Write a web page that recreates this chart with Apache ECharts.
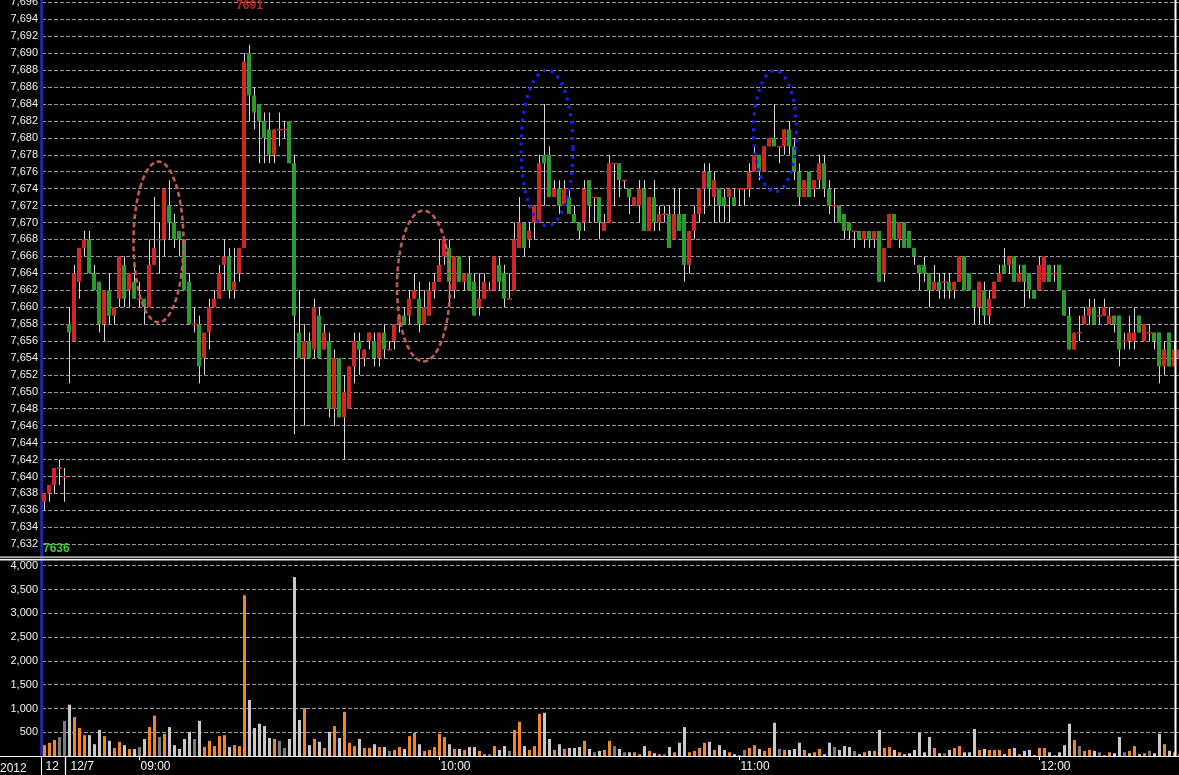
<!DOCTYPE html>
<html>
<head>
<meta charset="utf-8">
<script src="https://cdn.jsdelivr.net/npm/echarts/dist/echarts.min.js"></script>
<style>
html,body{margin:0;padding:0;background:#000;overflow:hidden;width:1179px;height:775px}
#c{width:1182px;height:775px}
</style>
</head>
<body>
<div id="c"></div>
<script>
// ---- categories: last 5 minutes of 12/6 session, then 12/7 from 08:46 ----
const prevSession = ['12/6 13:41','12/6 13:42','12/6 13:43','12/6 13:44','12/6 13:45'];
const daySession = [];
for (let m = 8 * 60 + 46; m <= 12 * 60 + 28; m++) {
  const hh = String(Math.floor(m / 60)).padStart(2, '0');
  const mm = String(m % 60).padStart(2, '0');
  daySession.push('12/7 ' + hh + ':' + mm);
}
const categories = prevSession.concat(daySession);

// ---- price (1-minute OHLC) ----
const openP = [
 7637,7638,7639,7641,7640,7658,7656,7663,7667,7668,
 7664,7663,7658,7662,7659,7661,7665,7662,7663,7661,
 7661,7660,7665,7668,7668,7672,7670,7669,7668,7663,
 7658,7658,7654,7657,7660,7661,7665,7666,7662,7664,
 7667,7690,7685,7684,7682,7681,7678,7681,7681,7682,
 7677,7657,7654,7656,7655,7659,7655,7656,7648,7654,
 7647,7648,7653,7656,7654,7656,7656,7654,7657,7655,
 7656,7658,7659,7659,7661,7661,7658,7659,7662,7663,
 7666,7667,7662,7666,7663,7664,7663,7660,7661,7662,
 7662,7665,7664,7661,7662,7667,7670,7668,7670,7670,
 7678,7678,7673,7674,7672,7673,7671,7670,7670,7675,
 7673,7673,7669,7670,7677,7677,7675,7674,7672,7672,
 7674,7669,7673,7670,7671,7671,7668,7671,7671,7665,
 7669,7671,7674,7676,7673,7674,7673,7673,7673,7674,
 7674,7674,7676,7678,7676,7679,7680,7679,7679,7681,
 7679,7676,7673,7676,7674,7675,7677,7674,7672,7672,
 7671,7670,7669,7669,7668,7669,7668,7669,7664,7667,
 7671,7668,7670,7669,7667,7665,7665,7664,7662,7663,
 7663,7663,7662,7663,7666,7664,7662,7660,7662,7659,
 7661,7663,7665,7665,7666,7663,7665,7664,7662,7662,
 7663,7665,7664,7665,7662,7659,7655,7657,7658,7659,
 7660,7659,7659,7658,7659,7659,7656,7656,7656,7659,
 7656,7657,7657,7657,7653,7657,7653,7654
];
const closeP = [
 7638,7639,7641,7641,7640,7657,7664,7667,7668,7664,
 7662,7658,7662,7659,7660,7666,7661,7664,7661,7661,
 7660,7665,7667,7668,7674,7670,7668,7668,7662,7658,
 7658,7653,7657,7660,7661,7664,7666,7662,7663,7667,
 7689,7685,7683,7682,7680,7678,7681,7681,7681,7677,
 7659,7654,7656,7654,7660,7654,7657,7648,7654,7647,
 7650,7653,7656,7655,7655,7657,7654,7657,7655,7655,
 7658,7659,7658,7661,7662,7658,7660,7662,7663,7665,
 7668,7663,7666,7663,7664,7662,7659,7661,7663,7662,
 7666,7663,7661,7661,7668,7670,7667,7669,7672,7677,
 7677,7673,7674,7672,7674,7671,7670,7669,7674,7672,
 7673,7670,7670,7677,7677,7675,7675,7673,7673,7674,
 7669,7673,7670,7671,7671,7667,7671,7669,7665,7669,
 7671,7674,7676,7674,7675,7672,7672,7674,7672,7674,
 7674,7676,7678,7676,7679,7680,7679,7679,7681,7679,
 7676,7673,7675,7673,7675,7677,7674,7672,7672,7670,
 7669,7669,7669,7668,7669,7668,7669,7663,7667,7671,
 7668,7670,7667,7667,7666,7664,7664,7662,7663,7662,
 7663,7662,7663,7666,7662,7662,7660,7663,7659,7661,
 7663,7664,7664,7666,7663,7664,7663,7662,7661,7665,
 7666,7663,7664,7662,7659,7655,7657,7657,7659,7660,
 7658,7659,7660,7659,7658,7655,7656,7657,7657,7657,
 7658,7657,7656,7653,7655,7653,7655,7655
];
const lowP = [
 7636,7637,7638,7639,7637,7651,7656,7661,7666,7664,
 7662,7657,7656,7658,7658,7660,7660,7660,7661,7660,
 7658,7660,7665,7664,7666,7668,7667,7666,7662,7658,
 7657,7651,7652,7655,7660,7661,7662,7661,7661,7663,
 7667,7682,7681,7677,7677,7677,7677,7679,7680,7677,
 7645,7654,7646,7654,7654,7654,7655,7647,7646,7647,
 7642,7648,7651,7652,7653,7655,7653,7653,7654,7655,
 7655,7657,7658,7658,7661,7657,7658,7659,7661,7663,
 7665,7660,7661,7663,7662,7662,7659,7659,7661,7662,
 7662,7662,7660,7661,7662,7667,7666,7667,7668,7670,
 7672,7673,7673,7671,7672,7671,7670,7668,7669,7670,
 7670,7668,7669,7670,7672,7673,7674,7671,7672,7670,
 7669,7669,7669,7669,7670,7667,7668,7669,7663,7664,
 7668,7670,7671,7672,7670,7670,7670,7670,7672,7672,
 7672,7673,7676,7675,7676,7679,7679,7677,7678,7678,
 7675,7672,7673,7673,7673,7674,7673,7671,7670,7670,
 7668,7668,7667,7668,7667,7667,7667,7663,7663,7667,
 7668,7667,7667,7667,7665,7662,7663,7660,7662,7661,
 7661,7661,7661,7663,7662,7662,7658,7658,7658,7658,
 7661,7663,7664,7664,7663,7663,7660,7661,7661,7662,
 7663,7663,7663,7662,7659,7655,7655,7656,7658,7658,
 7658,7658,7659,7658,7657,7653,7655,7655,7655,7657,
 7656,7656,7655,7651,7652,7653,7653,7654
];
const highP = [
 7638,7639,7641,7642,7641,7660,7665,7667,7669,7669,
 7665,7663,7662,7664,7660,7666,7666,7664,7665,7663,
 7661,7668,7673,7670,7674,7675,7671,7669,7668,7664,
 7660,7659,7657,7661,7662,7665,7668,7667,7667,7667,
 7690,7691,7686,7684,7683,7683,7681,7683,7682,7682,
 7678,7662,7658,7657,7661,7660,7658,7657,7655,7654,
 7652,7653,7657,7657,7655,7657,7657,7657,7658,7656,
 7658,7659,7660,7662,7664,7663,7662,7663,7664,7668,
 7668,7668,7666,7666,7664,7666,7664,7664,7664,7663,
 7666,7666,7665,7664,7670,7673,7670,7670,7672,7678,
 7684,7679,7675,7675,7675,7674,7672,7670,7675,7675,
 7673,7673,7671,7678,7677,7677,7675,7674,7673,7675,
 7675,7673,7675,7672,7672,7672,7674,7674,7671,7669,
 7672,7674,7677,7677,7676,7674,7674,7674,7674,7674,
 7674,7677,7679,7678,7679,7680,7684,7679,7681,7682,
 7680,7677,7675,7676,7675,7678,7678,7675,7674,7672,
 7671,7670,7669,7669,7669,7669,7669,7669,7667,7671,
 7671,7670,7670,7669,7667,7665,7666,7664,7665,7664,
 7664,7664,7663,7666,7666,7664,7662,7663,7663,7662,
 7663,7665,7667,7666,7666,7665,7665,7664,7662,7666,
 7666,7665,7665,7665,7662,7660,7657,7659,7660,7661,
 7661,7660,7661,7660,7659,7659,7657,7659,7660,7659,
 7658,7658,7657,7657,7656,7657,7656,7656
];

// ---- volume (contracts per minute) ----
const volume = [
 230,280,340,400,740,1080,820,590,440,440,
 250,550,420,320,170,300,230,150,150,190,
 360,610,850,400,470,610,230,150,360,510,
 360,740,190,320,210,420,440,190,230,210,
 3380,1180,590,680,630,380,360,320,170,360,
 3760,760,1010,230,360,300,170,510,630,380,
 930,280,210,360,170,170,250,190,190,110,
 130,190,150,420,490,250,110,130,190,470,
 400,250,150,150,130,190,190,110,40,40,
 210,130,210,110,550,720,210,130,210,890,
 910,360,130,250,150,170,170,190,320,150,
 80,110,130,320,210,150,80,80,80,40,
 210,110,60,40,40,190,80,280,610,80,
 110,170,280,300,130,230,130,80,40,20,
 130,170,230,150,110,170,700,150,130,130,
 150,280,130,60,80,150,40,280,190,130,
 210,190,110,40,80,110,110,550,170,190,
 130,80,40,60,130,490,80,400,170,60,
 60,130,170,210,80,80,570,130,150,130,
 130,130,40,150,170,40,110,130,20,170,
 170,80,20,80,230,680,340,210,110,130,
 110,80,20,80,60,400,80,110,210,40,
 60,110,60,470,250,110,80,40
];

// ---- hand-drawn annotation ovals: [centre bar index, centre price, half-width (bars), half-height (points), kind]
const ovalNotes = [
  [22.8, 7667.7, 5.0, 9.5, 'red'],
  [75.8, 7662.5, 5.3, 8.9, 'red'],
  [100.5, 7678.8, 5.2, 9.2, 'blue'],
  [146.1, 7680.8, 4.3, 7.15, 'blue']
];
const yearLabel = '2012';

// ---- styles ----
const UP = '#d42424', DOWN = '#2b9c2b', WICK = '#d8d8d8';
const VOL_UP = '#f0862a', VOL_DOWN = '#c8c8c8', VOL_FLAT = '#7c7c7c';
const FONT = '"Liberation Sans", Arial, sans-serif';
const GRID_LINE = {color: '#9a9a9a', type: [4, 2], width: 1};

const candleData = categories.map((c, i) => [i, openP[i], closeP[i], lowP[i], highP[i]]);
const volData = volume.map((v, i) => ({
  value: v,
  itemStyle: {color: closeP[i] > openP[i] ? VOL_UP : (closeP[i] < openP[i] ? VOL_DOWN : VOL_FLAT)}
}));

const firstDayCat = daySession[0];
const isHour = v => v.startsWith('12/7') && v.endsWith(':00');
const labelFn = (idx, v) => idx === 0 || v === firstDayCat || isHour(v);
const fmtX = (v, idx) => {
  if (idx === 0) return v.split('/')[0];
  if (v === firstDayCat) return v.split(' ')[0];
  if (isHour(v)) return v.split(' ')[1];
  return '';
};

const chart = echarts.init(document.getElementById('c'), null, {renderer: 'canvas'});
const option = {
  backgroundColor: '#000000',
  animation: false,
  grid: [
    {left: 42, right: 0, top: 2.4, height: 541.8, outerBoundsMode: 'none', containLabel: false},
    {left: 42, right: 0, top: 565.7, height: 190.4, outerBoundsMode: 'none', containLabel: false}
  ],
  xAxis: [
    {type: 'category', gridIndex: 0, data: categories, boundaryGap: true,
     axisLine: {show: false}, axisTick: {show: false}, axisLabel: {show: false}, splitLine: {show: false}},
    {type: 'category', gridIndex: 1, data: categories, boundaryGap: true,
     axisLine: {show: false},
     axisTick: {show: true, interval: (i, v) => isHour(v), alignWithLabel: true, length: 4, lineStyle: {color: '#ffffff', width: 1}},
     axisLabel: {show: true, interval: labelFn, formatter: fmtX, color: '#f4f4f4', fontSize: 12, fontFamily: FONT, align: 'left', margin: 5, padding: [0, 0, 0, 1], hideOverlap: false},
     splitLine: {show: false}}
  ],
  yAxis: [
    {type: 'value', gridIndex: 0, min: 7632, max: 7696, interval: 2, scale: true,
     axisLine: {show: false}, axisTick: {show: false},
     axisLabel: {color: '#f0f0f0', fontSize: 11, fontFamily: FONT, margin: 4, formatter: v => v.toLocaleString('en-US')},
     splitLine: {show: true, lineStyle: GRID_LINE}},
    {type: 'value', gridIndex: 1, min: 0, max: 4000, interval: 500,
     axisLine: {show: false}, axisTick: {show: false},
     axisLabel: {color: '#f0f0f0', fontSize: 11, fontFamily: FONT, margin: 4, formatter: v => v === 0 ? '' : v.toLocaleString('en-US')},
     splitLine: {show: true, lineStyle: GRID_LINE}}
  ],
  series: [
    {
      type: 'custom', name: 'price', xAxisIndex: 0, yAxisIndex: 0, clip: false, silent: true,
      encode: {x: 0, y: [1, 2, 3, 4]},
      data: candleData,
      renderItem: function (params, api) {
        const i = api.value(0), o = api.value(1), c = api.value(2), l = api.value(3), h = api.value(4);
        const pO = api.coord([i, o]), pC = api.coord([i, c]), pL = api.coord([i, l]), pH = api.coord([i, h]);
        const x = pO[0];
        const top = Math.min(pO[1], pC[1]), bot = Math.max(pO[1], pC[1]);
        const children = [
          {type: 'line', shape: {x1: x, y1: pH[1], x2: x, y2: pL[1]}, style: {stroke: WICK, lineWidth: 1}}
        ];
        if (c !== o) {
          children.push({type: 'rect', shape: {x: x - 2.5, y: top, width: 4, height: bot - top}, style: {fill: c > o ? UP : DOWN}});
        } else {
          children.push({type: 'rect', shape: {x: x - 2.5, y: top - 0.5, width: 5, height: 1.5}, style: {fill: UP}});
        }
        return {type: 'group', children: children};
      }
    },
    {
      type: 'bar', name: 'volume', xAxisIndex: 1, yAxisIndex: 1, barWidth: 3, silent: true,
      data: volData
    }
  ]
};
chart.setOption(option);

// ---- decorations placed through the axes ----
const gx = i => chart.convertToPixel({xAxisIndex: 0}, categories[i]);
const gy = p => chart.convertToPixel({yAxisIndex: 0}, p);
const vy = v => chart.convertToPixel({yAxisIndex: 1}, v);
const bw = gx(1) - gx(0);
const x0 = gx(0);
const base = Math.round(vy(0)) + 0.5;
const volTop = vy(4000);
const W = 1182;

let maxIdx = 0, minIdx = 0;
highP.forEach((v, i) => { if (v > highP[maxIdx]) maxIdx = i; });
lowP.forEach((v, i) => { if (v < lowP[minIdx]) minIdx = i; });

const g = [];
// blue left axis bar
g.push({type: 'rect', z: 1, shape: {x: x0 - bw / 2 - 1.8, y: 0, width: 3, height: base}, style: {fill: '#2626aa'}});
// panel separators
g.push({type: 'line', z: 30, shape: {x1: 0, y1: volTop - 8.5, x2: W, y2: volTop - 8.5}, style: {stroke: '#a4a4a4', lineWidth: 2}});
g.push({type: 'line', z: 30, shape: {x1: 0, y1: volTop - 6, x2: W, y2: volTop - 6}, style: {stroke: '#f4f4f4', lineWidth: 1.5}});
g.push({type: 'line', z: 30, shape: {x1: 0, y1: base, x2: W, y2: base}, style: {stroke: '#f4f4f4', lineWidth: 1}});
// date-area separators
const sepA = Math.round(x0 - bw / 2) - 0.5;
const sepB = Math.round(gx(5) - bw / 2) - 1.5;
g.push({type: 'line', z: 30, shape: {x1: sepA, y1: base, x2: sepA, y2: 775}, style: {stroke: '#ffffff', lineWidth: 1}});
g.push({type: 'line', z: 30, shape: {x1: sepB, y1: base, x2: sepB, y2: 775}, style: {stroke: '#ffffff', lineWidth: 1.3}});
g.push({type: 'text', z: 30, x: 0, y: base + 12, style: {text: yearLabel, fill: '#f4f4f4', font: '12px ' + FONT, align: 'left', verticalAlign: 'middle', textAlign: 'left', textVerticalAlign: 'middle'}});
// right cursor line
const rx = Math.round(gx(226)) + 0.5;
g.push({type: 'line', z: 40, shape: {x1: rx, y1: 0, x2: rx, y2: base}, style: {stroke: '#ffffff', lineWidth: 2}});
// high / low labels
g.push({type: 'text', z: 40, x: gx(maxIdx), y: gy(7696) + 3, style: {text: String(highP[maxIdx]), fill: '#c81e1e', font: 'bold 12px ' + FONT, align: 'center', verticalAlign: 'middle', textAlign: 'center', textVerticalAlign: 'middle'}});
g.push({type: 'text', z: 40, x: gx(minIdx) - 1.5, y: gy(7632) + 4.5, style: {text: String(lowP[minIdx]), fill: '#36d236', font: 'bold 12px ' + FONT, align: 'left', verticalAlign: 'middle', textAlign: 'left', textVerticalAlign: 'middle'}});
// ovals
ovalNotes.forEach(([ci, cp, hw, hh, kind]) => {
  const cx = x0 + ci * bw, cy = gy(cp);
  const rX = hw * bw, rY = Math.abs(gy(cp + hh) - cy);
  const pts = [];
  for (let k = 0; k < 96; k++) {
    const a = k / 96 * Math.PI * 2;
    pts.push([cx + rX * Math.cos(a), cy + rY * Math.sin(a)]);
  }
  const st = kind === 'red'
    ? {fill: 'transparent', stroke: 'rgba(200,92,92,0.95)', lineWidth: 2.6, lineDash: [5, 3]}
    : {fill: 'transparent', stroke: '#1c1cf0', lineWidth: 3.2, lineDash: [3, 5]};
  g.push({type: 'polygon', z: 35, shape: {points: pts}, style: st});
});
chart.setOption({graphic: g});
</script>
</body>
</html>
